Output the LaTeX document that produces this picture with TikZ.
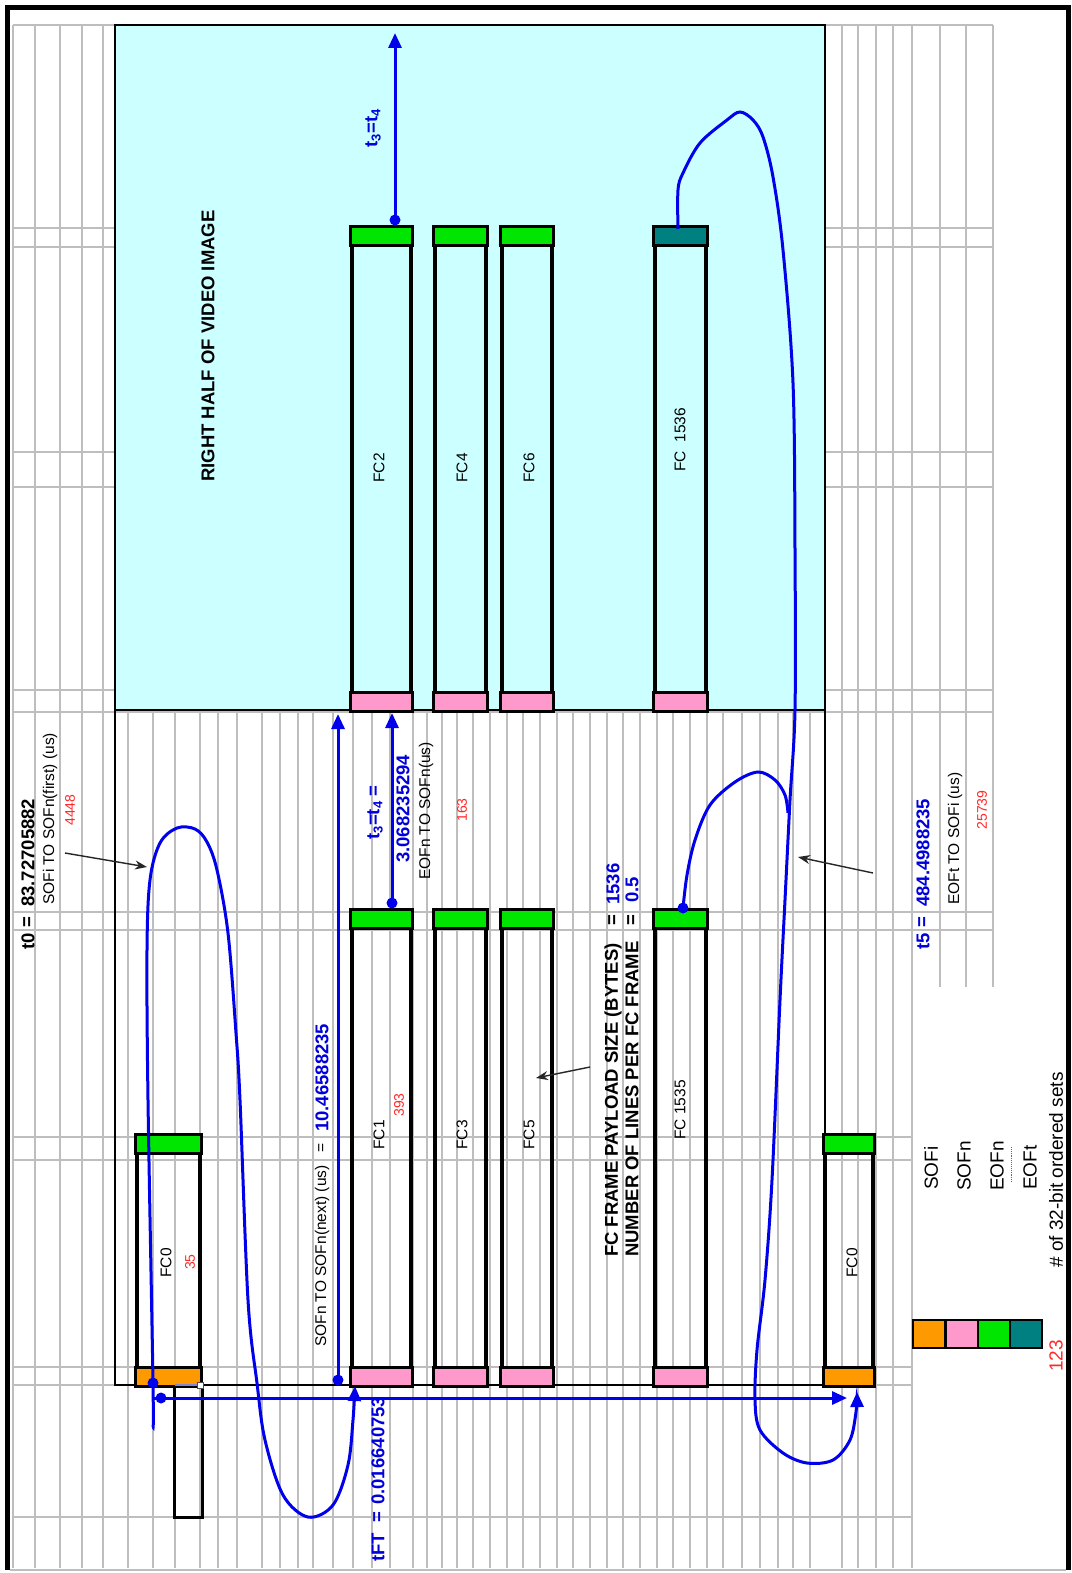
\documentclass[tikz,border=0pt]{standalone}
\usepackage{fontspec}
\setmainfont{Liberation Sans}
\usetikzlibrary{arrows.meta}
\definecolor{gridc}{RGB}{190,190,190}
\definecolor{cyanbg}{RGB}{204,255,255}
\definecolor{fcgreen}{RGB}{0,230,0}
\definecolor{fcpink}{RGB}{255,153,204}
\definecolor{fcorange}{RGB}{255,153,0}
\definecolor{fcteal}{RGB}{0,128,128}
\definecolor{numred}{RGB}{255,40,40}
\definecolor{lineblue}{RGB}{0,0,235}
\definecolor{valblue}{RGB}{0,0,220}
\newcommand\fcframe[8]{%
  \node[draw=black,line width=3.2pt,fill=#8,minimum width={#3-#2},minimum height={#5-#4},inner sep=0pt] (#1) at ({(#2+#3)/2},{(#4+#5)/2}) {};
  \draw[line width=3.2pt,fill=#6] (#1.north west) rectangle ([yshift=-19pt]#1.north east);
  \draw[line width=3.2pt,fill=#7] ([yshift=19pt]#1.south west) rectangle (#1.south east);
}
\begin{document}
\begin{tikzpicture}[x=1pt,y=-1pt,
  txt/.style={rotate=90,inner sep=0pt,anchor=west,font=\fontsize{15.5}{17}\selectfont},
  ctxt/.style={txt,anchor=center},
  bv/.style={txt,font=\bfseries\fontsize{18.5}{20}\selectfont},
  bvb/.style={bv,text=valblue},
  rnum/.style={ctxt,text=numred,font=\fontsize{14}{15}\selectfont},
  leg/.style={txt,font=\fontsize{19}{21}\selectfont},
  bl/.style={lineblue,line width=3pt},
  tip/.style={-{Triangle[length=15pt,width=13pt]}},
  dot/.style={circle,fill=lineblue,inner sep=0pt,minimum size=11pt},
  pointer/.style={black!85,line width=1.4pt,-{Stealth[length=12pt,width=9pt]}},
  gline/.style={gridc,line width=1.3pt}]
\useasboundingbox (0,0) rectangle (1071,1573);
\fill[white] (0,0) rectangle (1071,1573);
% grid
\foreach \xx in {13,35,60,82,103,128,153,175,200,218,237,262,280,298,313,333,353,372,390,413,427,442,457,473,490,507,523,540,557,573,590,607,623,640,657,673,690,707,723,742,760,778,793,810,842,858,876,893,912}
  \draw[gline] (\xx,25) -- (\xx,1568);
\foreach \xx in {940,966,993} \draw[gline] (\xx,25) -- (\xx,987);
\foreach \yy in {25,228,247,452,487,690,712,912,930} \draw[gline] (13,\yy) -- (993,\yy);
\foreach \yy in {1137,1160,1367,1385,1517} \draw[gline] (13,\yy) -- (912,\yy);
% regions
\node[draw=black,line width=1.6pt,fill=cyanbg,minimum width=710,minimum height=685,inner sep=0pt] (right) at (470,367.5) {};
\node[draw=black,line width=1.6pt,minimum width=710,minimum height=675,inner sep=0pt] (left) at (470,1047.5) {};
% frame
\draw[black,line width=5pt] (7.5,1570) -- (7.5,8) -- (1068.5,8) -- (1068.5,1570);
\draw[gridc,line width=1.5pt] (10,1570) -- (1066,1570);
% FC frames, right half
\fcframe{fc2}{352}{411}{228}{710}{fcgreen}{fcpink}{cyanbg}
\fcframe{fc4}{435}{486}{228}{710}{fcgreen}{fcpink}{cyanbg}
\fcframe{fc6}{502}{552}{228}{710}{fcgreen}{fcpink}{cyanbg}
\fcframe{fc1536}{655}{706}{228}{710}{fcteal}{fcpink}{cyanbg}
% FC frames, left half
\fcframe{fc1}{352}{411}{911}{1385}{fcgreen}{fcpink}{none}
\fcframe{fc3}{435}{486}{911}{1385}{fcgreen}{fcpink}{none}
\fcframe{fc5}{502}{552}{911}{1385}{fcgreen}{fcpink}{none}
\fcframe{fc1535}{655}{706}{911}{1385}{fcgreen}{fcpink}{none}
\fcframe{fcA}{137}{200}{1136}{1385}{fcgreen}{fcorange}{none}
\fcframe{fcB}{825}{873}{1136}{1385}{fcgreen}{fcorange}{none}
% empty cell box under FC0
\node[minimum width=27,minimum height=132,inner sep=0pt] (cell) at (188.5,1451) {};
\draw[black,line width=3.2pt] (cell.north west) -- (cell.south west) -- (cell.south east) -- (cell.north east);
\draw[gridc!70!blue,line width=1.4pt] (cell.north west) -- (cell.north east);
\draw[black!70,fill=white,line width=0.8pt] (197,1382) rectangle (203,1388);
% frame labels
\node[ctxt] (l2) at (379,468) {FC2};
\node[ctxt] (l4) at (462,468) {FC4};
\node[ctxt] (l6) at (529,468) {FC6};
\node[ctxt] (l1536) at (680,440) {FC~~1536};
\node[ctxt] (l1) at (379,1135) {FC1};
\node[rnum] (n393) at (399,1105) {393};
\node[ctxt] (l3) at (462,1135) {FC3};
\node[ctxt] (l5) at (529,1135) {FC5};
\node[ctxt] (l1535) at (680,1110) {FC 1535};
\node[ctxt] (l0a) at (166,1263) {FC0};
\node[rnum] (n35) at (190,1262) {35};
\node[ctxt] (l0b) at (852,1263) {FC0};
\node[bv] (rh) at (208,482) {RIGHT HALF OF VIDEO IMAGE};
% t0
\node[bv] (t0) at (28,950) {t0};
\node[bv] (t0eq) at (28,928) {=};
\node[bv] (t0v) at (28,907) {83.72705882};
\node[txt] (sofi) at (50,905) {SOFi TO SOFn(first) (us)};
\node[rnum] (n4448) at (70,810) {4448};
% t5
\node[bvb] (t5) at (923,950) {t5};
\node[bvb] (t5eq) at (923,928) {=};
\node[bvb] (t5v) at (923,907) {484.4988235};
\node[txt] (eoft) at (955,905) {EOFt TO SOFi (us)};
\node[rnum] (n25739) at (982,810) {25739};
% SOFn to SOFn
\node[txt] (sofn) at (322,1347) {SOFn TO SOFn(next) (us)};
\node[txt] (sofneq) at (322,1153) {=};
\node[bvb] (sofnv) at (322,1132) {10.46588235};
% tFT
\node[bvb] (tft) at (378,1562) {tFT};
\node[bvb] (tfteq) at (378,1523) {=};
\node[bvb] (tftv) at (378,1505) {0.016640753};
% t3=t4
\node[bvb] (t34a) at (375,840) {t\textsubscript{3}=t\textsubscript{4} =};
\node[bvb] (t34v) at (403,863) {3.068235294};
\node[txt] (eofn) at (426,880) {EOFn TO SOFn(us)};
\node[rnum] (n163) at (462,810) {163};
\node[bvb,anchor=center] (t34b) at (373,128) {t\textsubscript{3}=t\textsubscript{4}};
% payload
\node[bv] (pl1) at (613,1257) {FC FRAME PAYLOAD SIZE (BYTES)};
\node[bv] (pl1eq) at (613,926) {=};
\node[bvb] (pl1v) at (613,905) {1536};
\node[bv] (pl2) at (632,1257) {NUMBER OF LINES PER FC FRAME};
\node[bv] (pl2eq) at (632,926) {=};
\node[bvb] (pl2v) at (632,903) {0.5};
% legend
\node[draw=black,line width=1.4pt,fill=fcorange,minimum width=32,minimum height=28,inner sep=0pt] (k1) at (929,1334) {};
\node[draw=black,line width=1.4pt,fill=fcpink,minimum width=32,minimum height=28,inner sep=0pt] (k2) at (962,1334) {};
\node[draw=black,line width=1.4pt,fill=fcgreen,minimum width=32,minimum height=28,inner sep=0pt] (k3) at (994,1334) {};
\node[draw=black,line width=1.4pt,fill=fcteal,minimum width=32,minimum height=28,inner sep=0pt] (k4) at (1026,1334) {};
\node[leg] (g1) at (931,1190) {SOFi};
\node[leg] (g2) at (964,1191) {SOFn};
\node[leg] (g3) at (997,1191) {EOFn};
\node[leg] (g4) at (1030,1190) {EOFt};
\draw[numred,line width=0.9pt,densely dotted] (1011,1182) -- (1011,1147);
\node[leg,text=numred,anchor=center] (n123) at (1056,1356) {123};
\node[leg] (g5) at (1056,1268) {\# of 32-bit ordered sets};
% pointers
\coordinate (p1s) at (65,853); \coordinate (p1e) at (147,867);
\draw[pointer] (p1s) -- (p1e);
\coordinate (p2s) at (590,1067); \coordinate (p2e) at (536,1078);
\draw[pointer] (p2s) -- (p2e);
\coordinate (p3s) at (873,873); \coordinate (p3e) at (798,857);
\draw[pointer] (p3s) -- (p3e);
% blue connectors
\coordinate (aTop) at (395,33);
\node[dot] (dTop) at (395,220) {};
\draw[bl,tip] (dTop.center) -- (aTop);
\coordinate (aMid) at (392,713);
\node[dot] (dMid) at (392,903) {};
\draw[bl,tip] (dMid.center) -- (aMid);
\coordinate (aS) at (338,714);
\node[dot] (dS) at (338,1380) {};
\draw[bl,tip] (dS.center) -- (aS);
\coordinate (hS) at (153,1398); \coordinate (hE) at (847,1398);
\draw[bl,tip] (hS) -- (hE);
\node[dot] (dH) at (161,1398) {};
% left loop
\draw[bl,tip] plot[smooth,tension=0.55] coordinates {(153,1427) (153,1383) (148,1100) (147,950) (150,880) (160,843) (177,828) (195,829) (207,842) (217,870) (228,933) (236,1033) (240,1100) (248,1300) (257,1383) (265,1440) (283,1495) (308,1517) (333,1505) (348,1465) (353,1420) (355,1386)};
\node[dot] (dA) at (153,1383) {};
% right big loop
\draw[bl,tip] plot[smooth,tension=0.55] coordinates {(678,229) (678,190) (683,173) (700,143) (727,120) (740,112) (753,120) (763,137) (773,177) (783,250) (793,383) (795,550) (795,710) (790,800) (785,900) (780,1000) (772,1180) (765,1280) (757,1350) (755,1400) (760,1430) (783,1453) (807,1463) (833,1460) (850,1440) (856,1412) (857,1392)};
% FC1535 loop
\draw[bl] plot[smooth,tension=0.55] coordinates {(683,908) (687,875) (695,840) (710,805) (735,782) (758,772) (775,780) (785,795) (788,813)};
\node[dot] (dB) at (683,908) {};
\end{tikzpicture}
\end{document}
